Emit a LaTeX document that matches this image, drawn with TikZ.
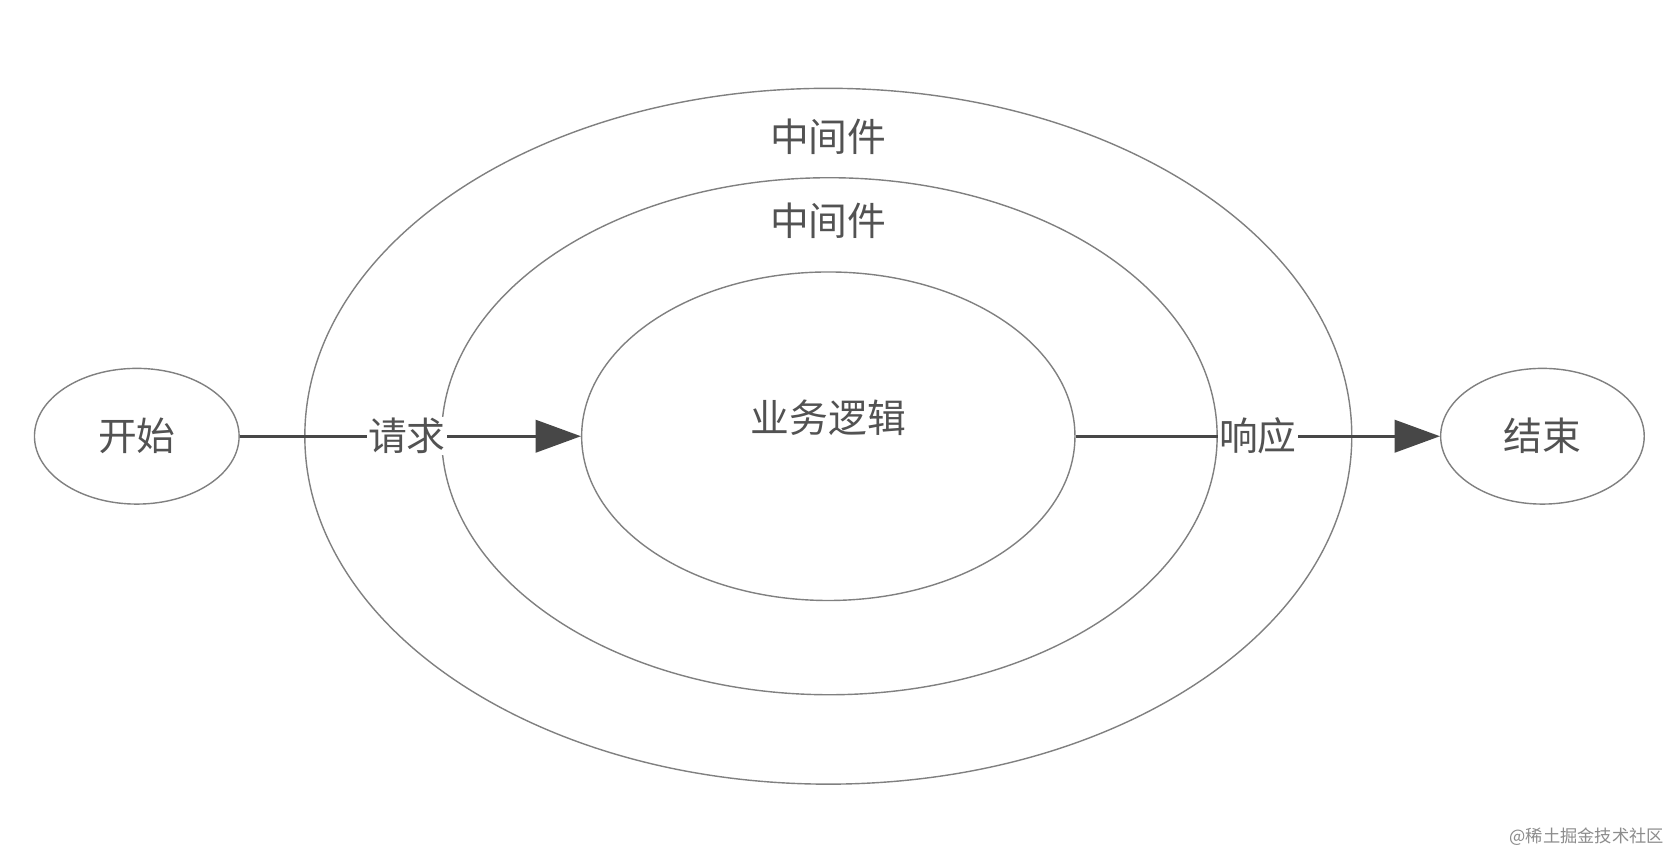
\documentclass[tikz,border=0pt]{standalone}
\usepackage{fontspec}
\setmainfont{Noto Sans CJK SC}
\usetikzlibrary{shapes.geometric,arrows.meta}
\begin{document}
\begin{tikzpicture}[x=1pt,y=-1pt,
  ring/.style={ellipse,draw=black!50,line width=1.3pt,inner sep=0pt},
  lbl/.style={text=black!68,font=\fontsize{36}{42}\selectfont,inner sep=1pt},
  arr/.style={draw=black!72,line width=2.5pt,-{Triangle[length=42pt,width=30pt]}},
]
\useasboundingbox[fill=white] (0,0) rectangle (1556,802);
\node[ring,minimum width=972pt,minimum height=646pt] (outer) at (769,405) {};
\node[ring,minimum width=720pt,minimum height=480pt] (middle) at (770,405) {};
\node[ring,minimum width=458pt,minimum height=305pt] (inner) at (769,405) {};
\node[ring,minimum width=190pt,minimum height=126pt] (start) at (127,405) {};
\node[ring,minimum width=189pt,minimum height=126pt] (end) at (1432,405) {};
\node[lbl] (outerlbl) at (769,127) {中间件};
\node[lbl] (middlelbl) at (769,205) {中间件};
\node[lbl] (innerlbl) at (769,388) {业务逻辑};
\node[lbl] (startlbl) at (127,405) {开始};
\node[lbl] (endlbl) at (1432,405) {结束};
\draw[arr] (start) -- node[lbl,fill=white,pos=0.49] (req) {请求} (inner);
\draw[arr] (inner) -- node[lbl,fill=white,pos=0.5] (resp) {响应} (end);
\node[text=black!45,font=\fontsize{16}{18}\selectfont] (wm) at (1473,777) {@稀土掘金技术社区};
\end{tikzpicture}
\end{document}
